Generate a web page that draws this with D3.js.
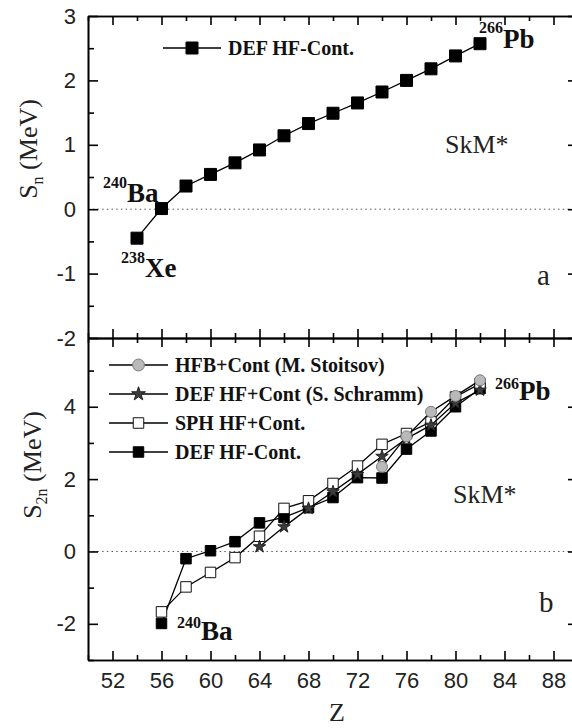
<!DOCTYPE html>
<html>
<head>
    <meta charset="utf-8">
    <title>Sn and S2n vs Z</title>
    <style>
        body { margin: 0; background: #fff; }
        svg { font-family: "Liberation Serif", "Times New Roman", serif; }
        .axis path, .axis line { stroke: #000; stroke-width: 1.6px; fill: none; }
        .axis text { font-size: 22px; fill: #222; }
        .zero { stroke: #555; stroke-width: 1px; stroke-dasharray: 1.5,3.2; }
        .ln { fill: none; stroke: #000; stroke-width: 1.3px; }
        .lg { font-size: 20px; font-weight: bold; fill: #111; }
        .nuc { font-weight: bold; fill: #111; }
        .lab { fill: #222; }
    </style>
    <script src="https://d3js.org/d3.v7.min.js"></script>
</head>

<body>
<svg id="chart"></svg>

<script>
    //tick labels
    var xTicks = [52, 56, 60, 64, 68, 72, 76, 80, 84, 88],
        xMinor = [50, 54, 58, 62, 66, 70, 74, 78, 82, 86, 90],
        snTicks = [-2, -1, 0, 1, 2, 3],
        snMinor = [-1.5, -0.5, 0.5, 1.5, 2.5],
        s2nTicks = [-2, 0, 2, 4],
        s2nMinor = [-3, -1, 1, 3, 5];

    //panel a: one neutron separation energy, DEF HF-Cont.
    var zSn = [54, 56, 58, 60, 62, 64, 66, 68, 70, 72, 74, 76, 78, 80, 82],
        snDef = [-0.45, 0.01, 0.36, 0.54, 0.72, 0.92, 1.14, 1.33, 1.49, 1.65, 1.82, 2.0, 2.18, 2.38, 2.57];

    //panel b: two neutron separation energies
    var zDef = [56, 58, 60, 62, 64, 66, 68, 70, 72, 74, 76, 78, 80, 82],
        s2nDef = [-1.99, -0.2, 0.02, 0.27, 0.79, 0.94, 1.21, 1.49, 2.04, 2.03, 2.83, 3.33, 4.0, 4.5];
    var zSph = [56, 58, 60, 62, 64, 66, 68, 70, 72, 74, 76, 78, 80, 82],
        s2nSph = [-1.67, -0.98, -0.58, -0.17, 0.42, 1.19, 1.4, 1.88, 2.36, 2.96, 3.26, 3.58, 4.27, 4.64];
    var zSchramm = [64, 66, 68, 70, 72, 74, 76, 78, 80, 82],
        s2nSchramm = [0.13, 0.68, 1.19, 1.65, 2.13, 2.63, 3.12, 3.49, 4.1, 4.46];
    var zStoitsov = [74, 76, 78, 80, 82],
        s2nStoitsov = [2.34, 3.18, 3.86, 4.3, 4.73];

    var legendB = ["HFB+Cont (M. Stoitsov)", "DEF HF+Cont (S. Schramm)", "SPH HF+Cont.", "DEF HF-Cont."];

    var svg = d3.select("#chart").attr("width", 572).attr("height", 728);
    svg.append("rect").attr("width", 572).attr("height", 728).attr("fill", "#fff");

    var x = d3.scaleLinear().domain([50, 90]).range([88, 578]),
        yA = d3.scaleLinear().domain([-2, 3]).range([338, 16]),
        yB = d3.scaleLinear().domain([-3, 5.9]).range([660, 338]);

    var noLabel = function() { return ""; };

    function axis(gen, vals, size, fmt) {
        return gen.tickValues(vals).tickSizeInner(-size).tickSizeOuter(0).tickPadding(12)
            .tickFormat(fmt || noLabel);
    }

    function addAxis(gen, tr) {
        svg.append("g").attr("class", "axis").attr("transform", tr).call(gen);
    }

    //zero lines
    [yA, yB].forEach(function(y) {
        svg.append("line").attr("class", "zero")
            .attr("x1", x(50)).attr("x2", x(90)).attr("y1", y(0)).attr("y2", y(0));
    });

    //x axes: top of a, shared middle, bottom of b
    addAxis(axis(d3.axisTop(x), xTicks, 9), "translate(0," + yA(3) + ")");
    addAxis(axis(d3.axisTop(x), xMinor, 5), "translate(0," + yA(3) + ")");
    addAxis(axis(d3.axisBottom(x), xTicks, 9), "translate(0," + yA(-2) + ")");
    addAxis(axis(d3.axisBottom(x), xMinor, 5), "translate(0," + yA(-2) + ")");
    addAxis(axis(d3.axisTop(x), xTicks, 9), "translate(0," + yB(5.9) + ")");
    addAxis(axis(d3.axisTop(x), xMinor, 5), "translate(0," + yB(5.9) + ")");
    addAxis(axis(d3.axisBottom(x), xTicks, 9, d3.format("d")), "translate(0," + yB(-3) + ")");
    addAxis(axis(d3.axisBottom(x), xMinor, 5), "translate(0," + yB(-3) + ")");

    //y axes, left labelled, right only ticks
    var fmtY = function(d) { return d < 0 ? "-" + Math.abs(d) : d; };
    addAxis(axis(d3.axisLeft(yA), snTicks, 10, fmtY), "translate(" + x(50) + ",0)");
    addAxis(axis(d3.axisLeft(yA), snMinor, 6), "translate(" + x(50) + ",0)");
    addAxis(axis(d3.axisLeft(yB), s2nTicks, 10, fmtY), "translate(" + x(50) + ",0)");
    addAxis(axis(d3.axisLeft(yB), s2nMinor, 6), "translate(" + x(50) + ",0)");
    addAxis(axis(d3.axisRight(yA), snTicks, 10), "translate(" + x(90) + ",0)");
    addAxis(axis(d3.axisRight(yA), snMinor, 6), "translate(" + x(90) + ",0)");
    addAxis(axis(d3.axisRight(yB), s2nTicks, 10), "translate(" + x(90) + ",0)");
    addAxis(axis(d3.axisRight(yB), s2nMinor, 6), "translate(" + x(90) + ",0)");

    //marker styles
    var sty = {
        def: { type: d3.symbolSquare, size: 110, fill: "#000", stroke: "#000" },
        sph: { type: d3.symbolSquare, size: 110, fill: "#fff", stroke: "#111" },
        sch: { type: d3.symbolStar, size: 48, fill: "#3c3c3c", stroke: "#222" },
        sto: { type: d3.symbolCircle, size: 95, fill: "#b9b9b9", stroke: "#7a7a7a" }
    };

    function series(y, zs, vs, s, size) {
        var pts = d3.zip(zs, vs);
        var g = svg.append("g");
        g.append("path").attr("class", "ln")
            .attr("d", d3.line().x(function(d) { return x(d[0]); }).y(function(d) { return y(d[1]); })(pts));
        g.selectAll("path.pt").data(pts).enter().append("path").attr("class", "pt")
            .attr("transform", function(d) { return "translate(" + x(d[0]) + "," + y(d[1]) + ")"; })
            .attr("d", d3.symbol().type(s.type).size(size || s.size))
            .attr("fill", s.fill).attr("stroke", s.stroke).attr("stroke-width", 1);
    }

    series(yA, zSn, snDef, sty.def, 144);
    series(yB, zDef, s2nDef, sty.def);
    series(yB, zSph, s2nSph, sty.sph);
    series(yB, zSchramm, s2nSchramm, sty.sch);
    series(yB, zStoitsov, s2nStoitsov, sty.sto);

    //legends
    function legendRow(yc, x1, x2, s, size, label, fs) {
        svg.append("line").attr("class", "ln").attr("x1", x1).attr("x2", x2).attr("y1", yc).attr("y2", yc);
        svg.append("path").attr("transform", "translate(" + ((x1 + x2) / 2) + "," + yc + ")")
            .attr("d", d3.symbol().type(s.type).size(size || s.size))
            .attr("fill", s.fill).attr("stroke", s.stroke);
        svg.append("text").attr("class", "lg").attr("x", x2 + 7).attr("y", yc + 7)
            .attr("font-size", fs).text(label);
    }
    legendRow(48, 163, 221, sty.def, 144, "DEF HF-Cont.", 20);
    [sty.sto, sty.sch, sty.sph, sty.def].forEach(function(s, i) {
        legendRow(365 + i * 29, 109, 168, s, s.type === d3.symbolStar ? 60 : 110, legendB[i], 20.5);
    });

    //nucleus labels
    function nucleus(xp, yp, sup, name, dy) {
        var t = svg.append("text").attr("class", "nuc").attr("x", xp).attr("y", yp);
        t.append("tspan").attr("font-size", 16).attr("dy", -dy).text(sup);
        t.append("tspan").attr("font-size", 27).attr("dy", dy).text(name);
    }
    nucleus(103, 202, "240", "Ba", 14);
    nucleus(121, 277, "238", "Xe", 14);
    nucleus(479, 48, "266", "Pb", 15);
    nucleus(495, 400, "266", "Pb", 11);
    nucleus(177, 640, "240", "Ba", 12);

    //other labels
    svg.append("text").attr("class", "lab").attr("x", 445).attr("y", 153).attr("font-size", 26).text("SkM*");
    svg.append("text").attr("class", "lab").attr("x", 453).attr("y", 503).attr("font-size", 26).text("SkM*");
    svg.append("text").attr("class", "lab").attr("x", 537).attr("y", 285).attr("font-size", 29).text("a");
    svg.append("text").attr("class", "lab").attr("x", 539).attr("y", 612).attr("font-size", 29).text("b");
    svg.append("text").attr("class", "lab").attr("x", 337).attr("y", 721).attr("font-size", 26)
        .attr("text-anchor", "middle").text("Z");

    //y titles
    var tA = svg.append("text").attr("class", "lab").attr("font-size", 26).attr("text-anchor", "middle")
        .attr("transform", "translate(37,149) rotate(-90)");
    tA.append("tspan").text("S");
    tA.append("tspan").attr("font-size", 16).attr("dy", 6).text("n");
    tA.append("tspan").attr("dy", -6).text(" (MeV)");
    var tB = svg.append("text").attr("class", "lab").attr("font-size", 26).attr("text-anchor", "middle")
        .attr("transform", "translate(41,465) rotate(-90)");
    tB.append("tspan").text("S");
    tB.append("tspan").attr("font-size", 16).attr("dy", 6).text("2n");
    tB.append("tspan").attr("dy", -6).text(" (MeV)");
</script>
</body>
</html>
